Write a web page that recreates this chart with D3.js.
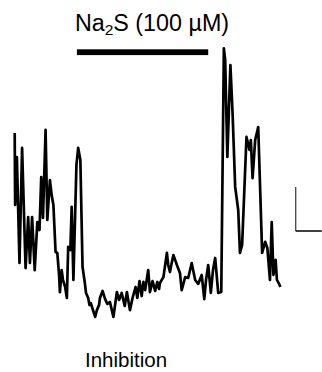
<!DOCTYPE html>
<html>
<head>
<meta charset="utf-8">
<script src="https://cdn.jsdelivr.net/npm/d3@7"></script>
<style>
  html, body { margin: 0; padding: 0; background: #fff; }
  svg { display: block; }
  text { font-family: "Liberation Sans", Arial, Helvetica, sans-serif; fill: #000; }
</style>
</head>
<body>
<svg id="chart" width="322" height="372"></svg>
<script>
// Recording time (s) and signal amplitude (a.u.)
const timeSec = [
  0, 1, 5, 11, 17, 25, 31, 35, 40, 46, 52, 57, 61, 65, 71, 75, 81, 85, 89, 94,
  98, 102, 104, 108, 111, 116, 120, 123, 128, 131, 135, 142, 146, 151, 156, 161, 164, 169, 172, 175,
  180, 185, 189, 194, 196, 202, 208, 213, 219, 227, 235, 240, 246, 253, 258, 265, 271, 278, 282, 287,
  292, 296, 300, 307, 311, 317, 323, 328, 332, 334, 342, 350, 353, 357, 361, 365, 373, 380, 384, 392,
  399, 407, 415, 422, 430, 436, 440, 445, 451, 456, 461, 468, 475, 481, 484, 489, 496, 501, 507, 514,
  518, 523, 533, 540, 543, 547, 553, 560, 569, 576, 581, 587, 591, 595, 600, 603, 608, 611
];
const amplitude = [
  85.0, 52.3, 74.1, 25.9, 78.2, 23.6, 46.8, 25.9, 46.8, 22.7, 44.5, 40.9, 65.0, 46.4, 86.4, 45.5, 63.6, 56.8, 52.3, 30.9,
  30.5, 20.5, 12.7, 22.7, 18.2, 15.0, 10.0, 33.2, 31.8, 51.4, 18.2, 70.5, 78.2, 72.7, 24.1, 17.3, 12.3, 10.0, 6.8, 7.7,
  4.5, 1.4, 4.5, 6.8, 10.0, 13.2, 9.5, 7.3, 8.2, 1.4, 12.7, 9.1, 12.3, 6.4, 12.7, 4.5, 10.0, 15.0, 10.0, 17.7,
  10.9, 17.3, 13.6, 22.7, 12.7, 17.7, 13.2, 17.3, 14.1, 16.8, 19.5, 30.5, 25.0, 21.8, 25.9, 29.5, 25.0, 21.4, 13.6, 19.5,
  19.1, 25.9, 18.2, 16.4, 20.5, 9.5, 18.2, 25.0, 12.3, 22.7, 28.2, 12.3, 12.7, 123.5, 118.2, 74.1, 115.9, 94.1, 60.5, 50.0,
  30.5, 34.1, 83.2, 77.3, 81.8, 64.5, 81.8, 87.7, 30.5, 35.5, 32.7, 18.2, 44.5, 20.5, 27.3, 18.2, 16.4, 15.0
];

// Drug application window (s)
const drugLabel = "Na";
const drugStart = 143;
const drugEnd = 445;

// Scale bar sizes
const scaleTime = 60;      // s
const scaleAmp = 20;       // a.u.

const bottomLabel = "Inhibition";

const svg = d3.select("#chart");

const x = d3.scaleLinear().domain([0, 611]).range([14.7, 280.4]);
const y = d3.scaleLinear().domain([0, 100]).range([320, 100]);

const data = timeSec.map((t, i) => ({ t, v: amplitude[i] }));

// Trace
svg.append("path")
  .datum(data)
  .attr("fill", "none")
  .attr("stroke", "#000")
  .attr("stroke-width", 2.7)
  .attr("stroke-linejoin", "round")
  .attr("d", d3.line().x(d => x(d.t)).y(d => y(d.v)));

// Application bar
svg.append("rect")
  .attr("x", x(drugStart))
  .attr("width", x(drugEnd) - x(drugStart))
  .attr("y", 49.3)
  .attr("height", 5.8)
  .attr("fill", "#000");

// Drug label with subscript
const lab = svg.append("text")
  .attr("x", 152)
  .attr("y", 31)
  .attr("text-anchor", "middle")
  .attr("font-size", 23.3);
lab.append("tspan").text(drugLabel);
lab.append("tspan").attr("font-size", 15.5).attr("dy", 4).text("2");
lab.append("tspan").attr("dy", -4).text("S (100 µM)");

// Scale bar
const sbX = 295.7, sbY = 231;
const ampPx = y(0) - y(scaleAmp);
const timePx = x(scaleTime) - x(0);
svg.append("line")
  .attr("x1", sbX).attr("x2", sbX)
  .attr("y1", sbY).attr("y2", sbY - ampPx)
  .attr("stroke", "#444").attr("stroke-width", 1.3);
svg.append("line")
  .attr("x1", sbX).attr("x2", sbX + timePx)
  .attr("y1", sbY).attr("y2", sbY)
  .attr("stroke", "#000").attr("stroke-width", 1.5);

// Condition label
svg.append("text")
  .attr("x", 126)
  .attr("y", 367)
  .attr("text-anchor", "middle")
  .attr("font-size", 20.5)
  .text(bottomLabel);
</script>
</body>
</html>
